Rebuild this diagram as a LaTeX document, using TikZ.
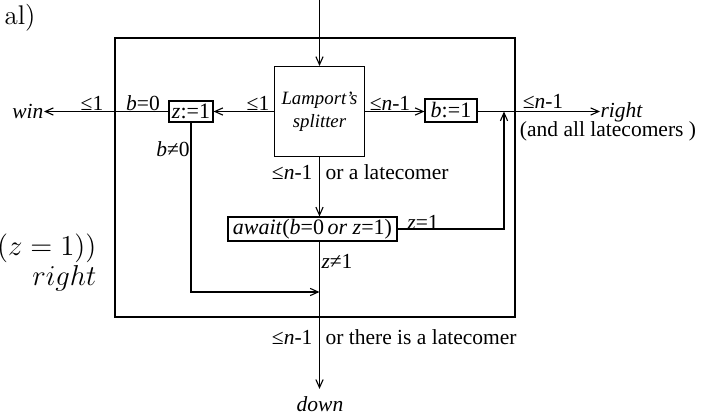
\documentclass[tikz,border=0pt]{standalone}
\usepackage{fontspec}
\newfontfamily\tm{Liberation Serif}
\usetikzlibrary{arrows.meta}
\begin{document}
\begin{tikzpicture}[x=0.5pt,y=-0.5pt,line width=0.55pt,
  >={Straight Barb[length=4pt,width=3.6pt]},
  lab/.style={font=\tm\fontsize{10.75}{12}\selectfont, inner sep=0},
  box/.style={draw, inner sep=0, font=\tm\fontsize{11}{12}\selectfont},
  lmtext/.style={font=\fontsize{13.5}{16}\selectfont, inner sep=0}]
\useasboundingbox (0,0) rectangle (711,416);
% outer frame
\node[draw, inner sep=0, minimum width=200pt, minimum height=139.5pt] (frame) at (315,177.5) {};
% boxes
\node[box, minimum width=45pt, minimum height=45pt, align=center,
      font=\tm\fontsize{9.4}{11.5}\selectfont\itshape] (spl) at (319.5,111.5) {Lamport’s\\splitter};
\node[box, minimum width=22pt, minimum height=10.5pt] (zb) at (191,111.5) {\textit{z}:=1};
\node[box, minimum width=26pt, minimum height=11.5pt] (bb) at (451,110.5) {\textit{b}:=1};
\node[box, minimum width=84.5pt, minimum height=12pt] (aw) at (312.5,229) {\textit{await}(\textit{b}=0\,\textit{or z}=1)};
% end labels
\node[lab, anchor=east, font=\tm\fontsize{10.75}{12}\selectfont\itshape] (win) at (44,111) {win};
\node[lab, anchor=west, font=\tm\fontsize{10.75}{12}\selectfont\itshape] (rt) at (600,112) {right};
\node[lab, inner sep=3.5pt, font=\tm\fontsize{10.75}{12}\selectfont\itshape] (down) at (320,404) {down};
% coordinates
\coordinate (top) at (319.5,0);
\coordinate (up) at (504,111.5);
\coordinate (j) at (319.5,292);
% connectors
\draw[->] (top) -- (spl.north);
\draw[->] (spl.west) -- (zb.east);
\draw[->] (zb.west) -- (zb.west -| win.east);
\draw[->] (spl.east) -- (spl.east -| bb.west);
\draw[->] (spl.east -| bb.east) -- (spl.east -| rt.west);
\draw[->] (spl.south) -- (spl.south |- aw.north);
\draw[->] (aw.east) -| (up);
\draw[->] (zb.south) |- (j);
\draw[->] (spl.south |- aw.south) -- (spl.south |- down.north);
% labels
\node[lab] at (92,103) {≤1};
\node[lab] at (143,103) {\textit{b}=0};
\node[lab] at (258,103) {≤1};
\node[lab] at (390,103) {≤\textit{n}-1};
\node[lab] at (543,101) {≤\textit{n}-1};
\node[lab] at (608,131) {(and all latecomers )};
\node[lab] at (173,149) {\textit{b}≠0};
\node[lab, anchor=east] at (313,172) {≤\textit{n}-1};
\node[lab, anchor=west] at (325,172) {or a latecomer};
\node[lab] at (423,222) {\textit{z}=1};
\node[lab] at (337,261) {\textit{z}≠1};
\node[lab, anchor=east] at (313,337) {≤\textit{n}-1};
\node[lab, anchor=west] at (325,337) {or there is a latecomer};
% cropped surrounding text
\node[lmtext, anchor=east] at (36,18) {al)};
\node[lmtext, anchor=east] at (97,248) {$(z=1))$};
\node[lmtext, anchor=east] at (97,278) {$right$};
\end{tikzpicture}
\end{document}
